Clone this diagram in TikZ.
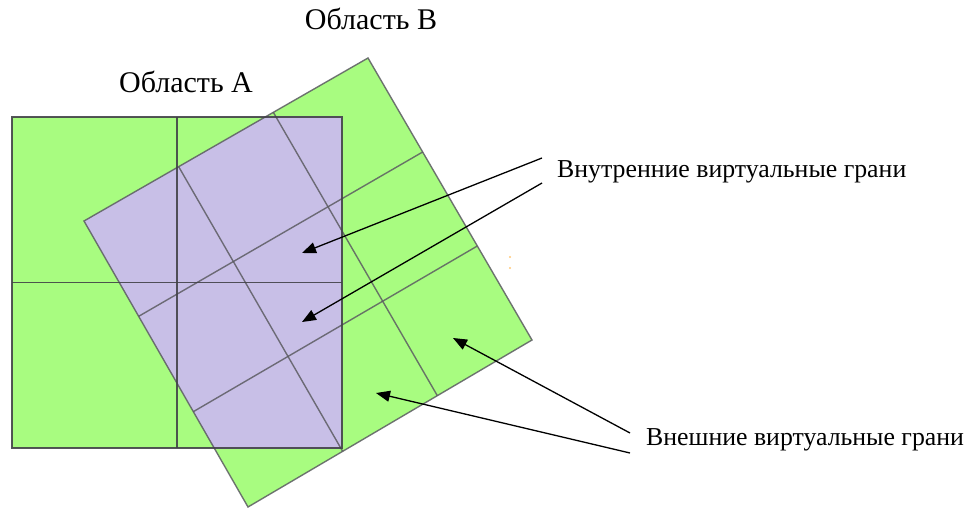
\documentclass[tikz,border=0pt]{standalone}
\usepackage{fontspec}
\setmainfont{Liberation Serif}
\usetikzlibrary{calc,arrows.meta}

\definecolor{regiongreen}{RGB}{168,252,128}
\definecolor{overlapviolet}{RGB}{200,191,231}
\definecolor{gridA}{RGB}{66,66,72}
\definecolor{gridB}{RGB}{92,92,98}
\definecolor{speck}{RGB}{255,200,120}

\tikzset{
  gridlineA/.style={draw=gridA, line width=1.8pt, opacity=0.9},
  gridlineB/.style={draw=gridB, line width=1.4pt, opacity=0.85},
  label/.style={font=\fontsize{25.8}{30}\selectfont, inner sep=0pt, anchor=base west},
  title/.style={font=\fontsize{30}{34}\selectfont, inner sep=0pt, anchor=base},
  pointer/.style={draw=black, line width=1.3pt, -{Triangle[length=14pt,width=11pt]}}
}

\begin{document}
\begin{tikzpicture}[x=1pt,y=-1pt]
  \useasboundingbox (0,0) rectangle (967,508);

  % region A: axis-aligned square split into 2x2
  \coordinate (A1) at (12,117);
  \coordinate (A2) at (342,117);
  \coordinate (A3) at (342,448);
  \coordinate (A4) at (12,448);

  % region B: square turned by about 30 degrees, split into 3x3
  \coordinate (BL) at (84,221);
  \coordinate (BT) at (368,58);
  \coordinate (BR) at (532,340);
  \coordinate (BB) at (248,507);

  % fills
  \fill[regiongreen] (A1) -- (A2) -- (A3) -- (A4) -- cycle;
  \fill[regiongreen] (BL) -- (BT) -- (BR) -- (BB) -- cycle;
  \begin{scope}
    \clip (A1) -- (A2) -- (A3) -- (A4) -- cycle;
    \fill[overlapviolet] (BL) -- (BT) -- (BR) -- (BB) -- cycle;
  \end{scope}

  % grid of B
  \foreach \k in {1,2} {
    \draw[gridlineB] ($(BL)!\k/3!(BB)$) -- ($(BT)!\k/3!(BR)$);
    \draw[gridlineB] ($(BL)!\k/3!(BT)$) -- ($(BB)!\k/3!(BR)$);
  }
  \draw[gridlineB] (BL) -- (BT) -- (BR) -- (BB) -- cycle;

  % grid of A
  \draw[gridlineA] ($(A1)!0.5!(A2)$) -- ($(A4)!0.5!(A3)$);
  \draw[gridlineA] ($(A1)!0.5!(A4)$) -- ($(A2)!0.5!(A3)$);
  \draw[gridlineA] (A1) -- (A2) -- (A3) -- (A4) -- cycle;

  % titles
  \node[title] (titleB) at (371,30) {Область B};
  \node[title] (titleA) at (186,93) {Область A};

  % callout labels
  \node[label] (inner) at (557,178) {Внутренние виртуальные грани};
  \node[label] (outer) at (646,445) {Внешние виртуальные грани};

  % callout anchors
  \coordinate (in1s) at (542,158);
  \coordinate (in2s) at (542,183);
  \coordinate (in1t) at (302,253);
  \coordinate (in2t) at (302,322);
  \coordinate (out1s) at (630,433);
  \coordinate (out2s) at (630,453);
  \coordinate (out1t) at (453,338);
  \coordinate (out2t) at (376,393);

  \draw[pointer] (in1s) -- (in1t);
  \draw[pointer] (in2s) -- (in2t);
  \draw[pointer] (out1s) -- (out1t);
  \draw[pointer] (out2s) -- (out2t);

  % two faint specks
  \fill[speck] (510,257) circle (1.2);
  \fill[speck] (510,268) circle (1.2);
\end{tikzpicture}
\end{document}
